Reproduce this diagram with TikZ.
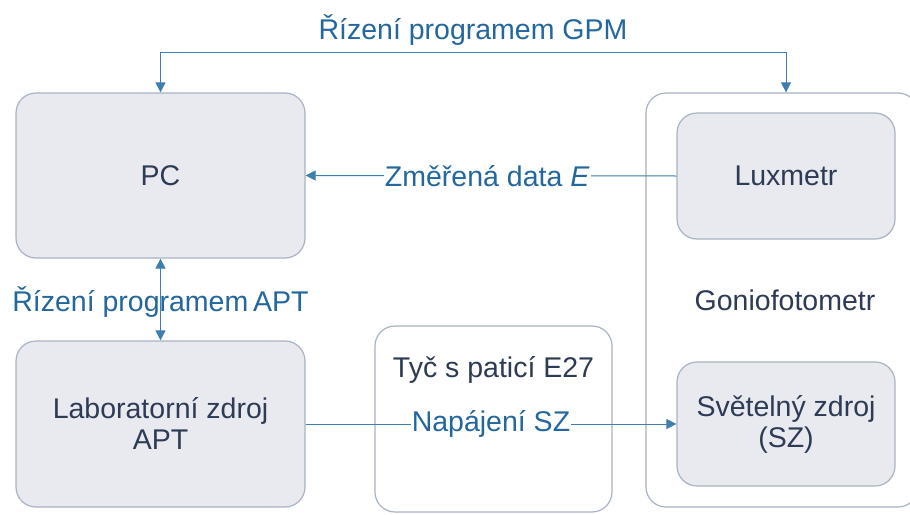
\documentclass[tikz,border=0pt]{standalone}
\usepackage{fontspec}
\setmainfont{Liberation Sans}
\usetikzlibrary{arrows.meta,calc}
\definecolor{boxfill}{HTML}{E8EAEF}
\definecolor{boxline}{HTML}{A8B3C3}
\definecolor{txtdark}{HTML}{2E3B55}
\definecolor{lblblue}{HTML}{23679E}
\definecolor{arrblue}{HTML}{3F7FB0}
\begin{document}
\begin{tikzpicture}[x=1pt,y=1pt,
  font=\fontsize{28.5}{32}\selectfont,
  boxstyle/.style={draw=boxline,line width=1.2pt,fill=boxfill,rounded corners=20pt,
    text=txtdark,align=center,inner sep=0pt},
  hollowbox/.style={draw=boxline,line width=1.2pt,fill=white,rounded corners=20pt,inner sep=0pt},
  conn/.style={draw=arrblue,line width=1pt},
  tip/.style={-{Triangle[length=10pt,width=10pt,fill=arrblue]}},
  lbl/.style={text=lblblue,inner sep=1pt}]
\useasboundingbox (0,0) rectangle (910,-514);
\clip (0,0) rectangle (910,-514);
\fill[white] (0,0) rectangle (910,-514);

% boxes
\node[hollowbox,minimum width=272pt,minimum height=414pt] (gonio) at (782,-300) {};
\node[hollowbox,minimum width=237pt,minimum height=186pt] (tyc) at (493.5,-419) {};
\node[boxstyle,minimum width=289pt,minimum height=165pt] (pc) at (160.5,-175.5) {PC};
\node[boxstyle,minimum width=289pt,minimum height=166pt] (lab) at (160.5,-424) {Laboratorní zdroj\\[-1pt]APT};
\node[boxstyle,minimum width=218pt,minimum height=126pt] (lux) at (786,-176) {Luxmetr};
\node[boxstyle,minimum width=218pt,minimum height=124pt] (sz) at (786,-424) {Světelný zdroj\\[-1pt](SZ)};

% box labels
\node[text=txtdark] (goniolbl) at (785,-300) {Goniofotometr};
\node[text=txtdark] (tyclbl) at (493.5,-370) {Tyč s paticí E27};

% top connector
\coordinate (tl) at (160.5,-52);
\coordinate (tr) at (786,-52);
\draw[conn] (tl) -- (tr);
\draw[conn,tip] (tl) -- (pc.north);
\draw[conn,tip] (tr) -- (tr |- gonio.north);
\node[lbl] (gpm) at (473,-30) {Řízení programem GPM};

% measured data
\draw[conn,tip] (lux.west) -- (pc.east)
  node[lbl,fill=white,pos=0.51] (data) {Změřená data \textit{E}};

% APT control
\node[lbl] (apt) at (160.5,-302) {Řízení programem\hspace{-3pt} APT};
\draw[conn,{Triangle[length=10pt,width=10pt,fill=arrblue]}-{Triangle[length=10pt,width=10pt,fill=arrblue]}] (pc.south) -- (lab.north);

% power
\draw[conn,tip] (lab.east) -- (sz.west)
  node[lbl,fill=white,midway] (nap) {Napájení SZ};
\end{tikzpicture}
\end{document}
